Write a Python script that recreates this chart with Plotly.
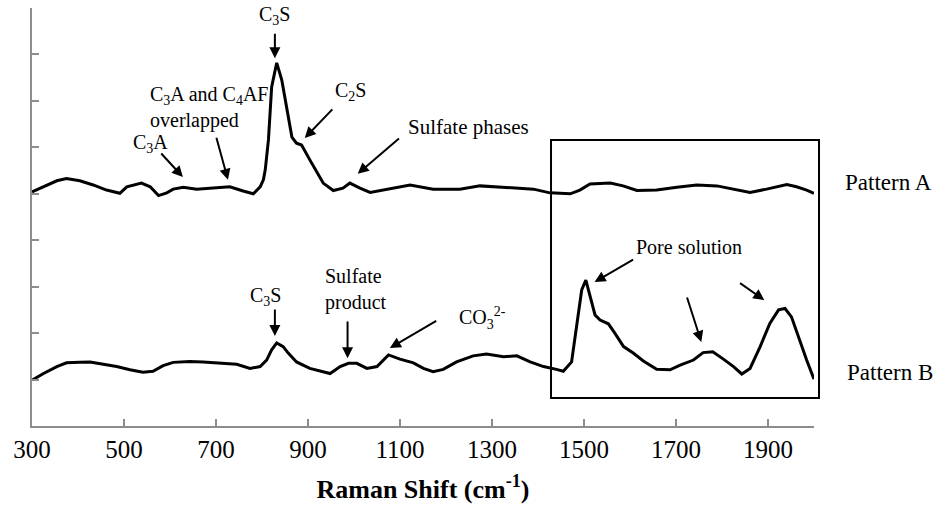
import plotly.graph_objects as go

# Raman shift (cm-1) and relative intensities
shift_a = [300, 332, 354, 375, 404, 433, 462, 491, 506, 538, 557, 575, 593, 607, 629, 658, 694, 730,
           759, 781, 796, 803, 807, 814, 821, 832, 843, 854, 865, 875, 886, 904, 926, 933, 955, 976,
           991, 1013, 1035, 1071, 1122, 1172, 1230, 1274, 1332, 1390, 1426, 1470, 1491, 1513, 1557,
           1585, 1615, 1658, 1702, 1745, 1789, 1824, 1861, 1897, 1941, 1962, 1984, 2000]
pattern_a = [5.04, 5.19, 5.28, 5.33, 5.28, 5.19, 5.08, 5.01, 5.15, 5.23, 5.15, 4.96, 5.02, 5.10, 5.14,
             5.10, 5.12, 5.15, 5.06, 5.00, 5.15, 5.30, 5.51, 6.16, 7.30, 7.82, 7.45, 6.80, 6.22, 6.09,
             6.05, 5.73, 5.36, 5.23, 5.07, 5.12, 5.23, 5.12, 5.03, 5.10, 5.19, 5.10, 5.10, 5.17, 5.13,
             5.10, 5.02, 5.00, 5.08, 5.21, 5.23, 5.17, 5.07, 5.08, 5.14, 5.19, 5.17, 5.10, 5.03, 5.10,
             5.20, 5.15, 5.08, 5.01]

shift_b = [301, 325, 354, 375, 404, 426, 455, 484, 513, 541, 563, 585, 607, 643, 672, 709, 745, 774,
           796, 810, 821, 832, 846, 857, 875, 904, 926, 948, 970, 988, 1006, 1028, 1050, 1075, 1100,
           1129, 1151, 1172, 1194, 1223, 1259, 1288, 1325, 1354, 1383, 1412, 1440, 1455, 1473, 1484,
           1495, 1504, 1513, 1524, 1535, 1553, 1567, 1586, 1607, 1629, 1658, 1687, 1709, 1738, 1759,
           1780, 1803, 1825, 1843, 1861, 1883, 1904, 1923, 1937, 1951, 1966, 1984, 2000]
pattern_b = [0.99, 1.13, 1.28, 1.36, 1.37, 1.38, 1.33, 1.28, 1.21, 1.16, 1.18, 1.30, 1.37, 1.39, 1.38,
             1.35, 1.33, 1.24, 1.28, 1.42, 1.64, 1.79, 1.71, 1.57, 1.38, 1.24, 1.19, 1.13, 1.28, 1.35,
             1.35, 1.24, 1.28, 1.53, 1.44, 1.36, 1.24, 1.17, 1.22, 1.38, 1.51, 1.55, 1.49, 1.51, 1.38,
             1.28, 1.22, 1.18, 1.38, 2.14, 2.93, 3.14, 2.78, 2.39, 2.28, 2.20, 2.00, 1.71, 1.57, 1.40,
             1.22, 1.21, 1.31, 1.42, 1.58, 1.60, 1.44, 1.28, 1.12, 1.24, 1.71, 2.21, 2.50, 2.53, 2.35,
             1.92, 1.42, 1.01]

x_ticks = [300, 500, 700, 900, 1100, 1300, 1500, 1700, 1900]
y_ticks = list(range(0, 10))
series_names = ["Pattern A", "Pattern B"]

FONT = "Liberation Serif, Times New Roman, serif"
AX_COLOR = "#8c8c8c"

fig = go.Figure()
fig.add_trace(go.Scatter(x=shift_a, y=pattern_a, mode="lines", name=series_names[0],
                         line=dict(color="black", width=3), showlegend=False))
fig.add_trace(go.Scatter(x=shift_b, y=pattern_b, mode="lines", name=series_names[1],
                         line=dict(color="black", width=3), showlegend=False))

def text(x, y, t, xanchor="center", align="center", size=20, xref="x", yref="y"):
    fig.add_annotation(x=x, y=y, xref=xref, yref=yref, text=t, showarrow=False, xanchor=xanchor,
                       yanchor="middle", align=align,
                       font=dict(family=FONT, size=size, color="black"))

def arrow(x0, y0, x1, y1):
    fig.add_annotation(x=x1, y=y1, ax=x0, ay=y0, axref="x", ayref="y", xref="x", yref="y",
                       text="", showarrow=True, arrowhead=2, arrowsize=1.1, arrowwidth=2,
                       arrowcolor="black")

# Pattern A labels
text(828, 8.84, "C<sub>3</sub>S")
arrow(828, 8.48, 828, 7.92)
text(552, 6.85, "C<sub>3</sub>A and C<sub>4</sub>AF<br>overlapped", xanchor="left", align="left")
arrow(700, 6.24, 726, 5.30)
text(558, 6.09, "C<sub>3</sub>A")
arrow(578, 5.90, 628, 5.36)
text(993, 7.21, "C<sub>2</sub>S")
arrow(956, 6.85, 893, 6.20)
text(1249, 6.44, "Sulfate phases", size=21)
arrow(1101, 6.22, 1008, 5.43)

# Pattern B labels
text(808, 2.78, "C<sub>3</sub>S")
arrow(828, 2.54, 828, 1.94)
text(932, 2.93, "Sulfate<br>product", xanchor="left", align="left")
arrow(986, 2.28, 986, 1.46)
text(1223, 2.33, "CO<sub>3</sub><sup>2-</sup>", xanchor="left", align="left")
arrow(1182, 2.28, 1078, 1.68)
text(1728, 3.85, "Pore solution")
arrow(1610, 3.60, 1523, 3.10)
arrow(1723, 2.80, 1755, 1.81)
arrow(1836, 3.10, 1892, 2.71)

# Pattern names (outside the plotting area, right side)
text(1.095, 0.583, series_names[0], size=23, xref="paper", yref="paper")
text(1.097, 0.129, series_names[1], size=23, xref="paper", yref="paper")

# highlight box
fig.add_shape(type="rect", xref="paper", yref="paper", x0=0.6637, x1=1.0064, y0=0.067, y1=0.684,
              line=dict(color="black", width=2), fillcolor="rgba(0,0,0,0)")

fig.update_layout(
    width=944, height=508,
    margin=dict(l=32, r=130, t=8, b=82),
    plot_bgcolor="white", paper_bgcolor="white",
    font=dict(family=FONT, color="black", size=22),
    xaxis=dict(range=[300, 2000], tickvals=x_ticks, ticks="inside", ticklen=7, tickwidth=1.5,
               tickcolor=AX_COLOR, showline=True, linecolor=AX_COLOR, linewidth=2,
               showgrid=False, zeroline=False, tickfont=dict(family=FONT, size=25),
               title=dict(text="<b>Raman Shift (cm<sup>-1</sup>)</b>",
                          font=dict(family=FONT, size=26), standoff=18)),
    yaxis=dict(range=[0, 9], tickvals=y_ticks, showticklabels=False, ticks="inside", ticklen=7,
               tickwidth=1.5, tickcolor=AX_COLOR, showline=True, linecolor=AX_COLOR, linewidth=2,
               showgrid=False, zeroline=False),
)

fig.write_html("out.html")
